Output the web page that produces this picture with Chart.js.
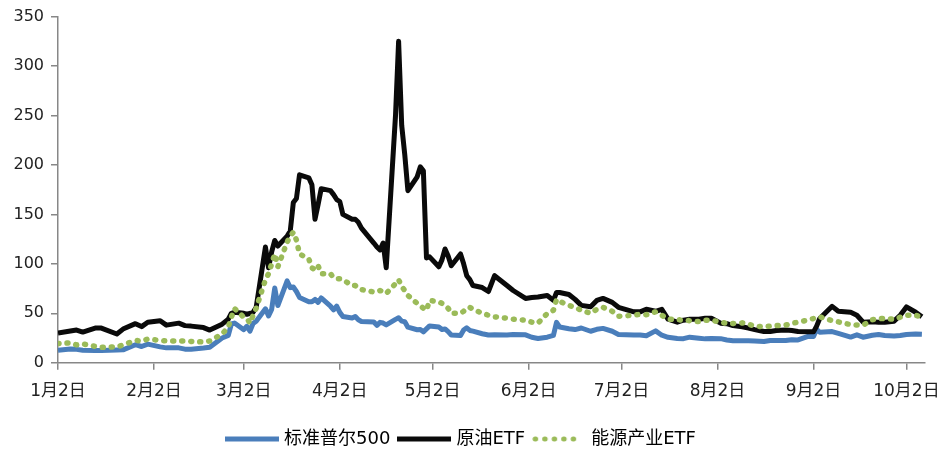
<!DOCTYPE html>
<html>
<head>
<meta charset="utf-8">
<script src="https://cdn.jsdelivr.net/npm/chart.js@4.4.1/dist/chart.umd.min.js"></script>
<style>
  html, body { margin: 0; padding: 0; background: #fff; }
  #wrap { width: 945px; height: 455px; }
</style>
</head>
<body>
<div id="wrap"><canvas id="volChart" width="945" height="455"></canvas></div>
<script>
// trading days (2020) and the three volatility series
const tradeDates = [
  '1/2','1/6','1/8','1/10','1/14','1/16','1/21','1/23','1/27','1/29','1/31',
  '2/4','2/6','2/10','2/12','2/14','2/18','2/20','2/24','2/26','2/27','2/28',
  '3/2','3/3','3/4','3/5','3/6','3/9','3/10','3/11','3/12','3/13','3/16','3/17','3/18','3/19','3/20',
  '3/23','3/24','3/25','3/26','3/27','3/30','3/31',
  '4/1','4/2','4/3','4/6','4/7','4/8','4/9','4/13','4/14','4/15','4/16','4/17','4/20','4/21','4/22',
  '4/23','4/24','4/27','4/28','4/29','4/30',
  '5/1','5/4','5/5','5/6','5/7','5/8','5/11','5/12','5/13','5/14','5/15','5/18','5/20','5/22','5/26','5/28',
  '6/1','6/3','6/5','6/8','6/10','6/11','6/12','6/15','6/17','6/19','6/22','6/24','6/26','6/29',
  '7/1','7/6','7/8','7/10','7/13','7/15','7/17','7/20','7/22','7/24','7/27','7/29','7/31',
  '8/3','8/5','8/7','8/10','8/12','8/14','8/17','8/19','8/21','8/24','8/26','8/28','8/31',
  '9/2','9/3','9/4','9/8','9/10','9/14','9/16','9/18','9/21','9/23','9/25','9/28','9/30',
  '10/2','10/5','10/7'
];

const sp500Vol = [
  12.5, 13.8, 13.5, 12.6, 12.4, 12.3, 12.9, 13.0, 18.2, 16.4, 18.8,
  16.0, 15.0, 15.0, 13.7, 13.7, 14.8, 15.6, 25.0, 27.6, 39.2, 40.1,
  33.4, 36.8, 32.0, 39.6, 41.9, 54.5, 47.3, 53.9, 75.5, 57.8, 82.7, 75.9, 76.5, 72.0, 66.0,
  61.6, 61.7, 64.0, 61.0, 65.5, 57.1, 53.5,
  57.1, 50.9, 46.8, 45.2, 46.7, 43.4, 41.7, 41.2, 37.8, 40.8, 40.1, 38.2, 43.8, 45.4, 42.0,
  41.4, 35.9, 33.3, 33.6, 31.2, 34.2,
  37.2, 36.0, 33.6, 34.1, 31.4, 28.0, 27.6, 33.0, 35.3, 32.6, 31.9, 29.3, 28.0, 28.2, 28.0, 28.6,
  28.2, 25.7, 24.5, 25.8, 27.6, 40.8, 36.1, 34.4, 33.5, 35.1, 31.8, 33.8, 34.7, 31.8,
  28.6, 27.9, 28.1, 27.3, 32.2, 27.8, 25.7, 24.5, 24.3, 25.8, 24.7, 24.1, 24.5,
  24.3, 23.0, 22.2, 22.1, 22.3, 22.0, 21.4, 22.5, 22.5, 22.4, 23.3, 23.0, 26.4,
  26.6, 33.6, 30.8, 31.5, 29.7, 25.9, 28.2, 25.8, 27.8, 28.6, 27.5, 27.0, 27.5,
  28.5, 29.0, 28.8
];

const oilEtfVol = [
  30, 32, 33, 31, 35, 35, 29, 34, 39.5, 36.5, 41,
  42.5, 38, 40, 37.5, 37, 35.5, 33, 39, 44, 50, 51,
  50, 49, 50, 51, 56, 117, 96, 112, 123.6, 118, 128, 133, 162, 166, 190,
  187, 180, 145, 160, 176, 174, 170,
  165, 163, 150, 145, 145, 142, 136, 121, 117, 114, 121, 96, 250, 325, 240,
  210, 174, 188, 198, 194, 106,
  107, 97, 104, 115, 108, 98, 110, 100, 88, 84, 78, 76, 72, 88, 78, 73,
  65, 66, 66.5, 68, 63, 71, 71, 69, 64, 58, 56.5, 63, 65, 61,
  56, 51.4, 51.4, 54, 52, 54, 44, 41, 43, 44, 44, 45, 45,
  40, 39.5, 37.5, 36.3, 35, 33.5, 31.5, 31.5, 32.5, 33, 32.5, 31.5, 31.2,
  31.2, 37, 44.7, 57, 52, 51, 48, 41, 41.3, 41, 41, 42, 48,
  56.4, 51, 46.5
];

const energyEtfVol = [
  19.5, 20, 18, 19, 16.5, 15.5, 16, 18, 22.5, 22, 24,
  22.5, 22, 21.9, 22, 21.5, 21, 22, 29, 36, 46, 54.8,
  46, 44.7, 40, 48, 55, 84, 90, 100, 110, 97, 122, 128, 132, 124, 110,
  105, 96, 94, 98, 90, 90, 86,
  85, 85, 84, 78, 78, 75, 74, 71.5, 72, 73, 72, 70, 80, 84, 77,
  73, 68, 60, 58, 55, 53,
  63, 61.5, 60, 58, 55, 50, 50, 52, 55, 56, 54, 50, 48, 46.4, 45, 44,
  43, 41, 40, 49.8, 53, 64, 62, 58, 56, 53, 50, 54, 56, 52,
  47, 48, 49, 48.5, 51.4, 48, 44, 43.5, 43, 42.5, 41.5, 43, 43,
  41, 39.7, 39.7, 40.3, 39, 37, 36.3, 37, 37.5, 38, 39.7, 41, 43,
  44.7, 46, 46.4, 42.5, 41.3, 38.5, 38, 38, 43.5, 44.7, 44.5, 44, 46,
  48, 48, 46
];

const tickDates = ['1/2', '2/2', '3/2', '4/2', '5/2', '6/2', '7/2', '8/2', '9/2', '10/2'];
const tickLabels = ['1月2日', '2月2日', '3月2日', '4月2日', '5月2日', '6月2日', '7月2日', '8月2日', '9月2日', '10月2日'];
const seriesNames = ['标准普尔500', '原油ETF', '能源产业ETF'];
const seriesColors = ['#4a7ebb', '#0a0a0a', '#9bbb59'];

const axisGrey = '#878787';
const fontFamily = "'DejaVu Sans', 'Noto Sans CJK SC', sans-serif";

// days since Jan 2 so weekends keep their calendar spacing
function dayOffset(md) {
    const [m, d] = md.split('/').map(Number);
    return (Date.UTC(2020, m - 1, d) - Date.UTC(2020, 0, 2)) / 86400000;
}

const xDays = tradeDates.map(dayOffset);
const tickDays = tickDates.map(dayOffset);

function toPoints(values) {
    return values.map((v, i) => ({x: xDays[i], y: v}));
}

// little line samples for the legend
function legendSample(color, dotted) {
    const c = document.createElement('canvas');
    c.width = 54;
    c.height = 8;
    const g = c.getContext('2d');
    g.strokeStyle = color;
    g.lineWidth = 5;
    g.beginPath();
    if (dotted) {
        g.lineCap = 'round';
        g.setLineDash([0.5, 9]);
        g.moveTo(3, 4);
        g.lineTo(44, 4);
    } else {
        g.moveTo(0, 4);
        g.lineTo(54, 4);
    }
    g.stroke();
    return c;
}
const legendSamples = [
    legendSample(seriesColors[0], false),
    legendSample(seriesColors[1], false),
    legendSample(seriesColors[2], true)
];

const ctx = document.getElementById('volChart');
const volChart = new Chart(ctx, {
    type: 'line',
    data: {
        datasets: [{
            label: seriesNames[0],
            data: toPoints(sp500Vol),
            borderColor: seriesColors[0],
            borderWidth: 5,
            order: 3
        }, {
            label: seriesNames[1],
            data: toPoints(oilEtfVol),
            borderColor: seriesColors[1],
            borderWidth: 5,
            order: 2
        }, {
            label: seriesNames[2],
            data: toPoints(energyEtfVol),
            borderColor: seriesColors[2],
            borderWidth: 5.5,
            borderDash: [1, 8],
            borderCapStyle: 'round',
            order: 1
        }]
    },
    options: {
        responsive: false,
        animation: false,
        devicePixelRatio: 1,
        layout: {padding: {top: 15, right: 20, left: 0, bottom: -3}},
        elements: {
            point: {radius: 0},
            line: {tension: 0, fill: false, borderJoinStyle: 'round'}
        },
        scales: {
            x: {
                type: 'linear',
                min: 0,
                max: 280,
                afterBuildTicks: scale => {
                    scale.ticks = tickDays.map(v => ({value: v}));
                },
                afterFit: scale => {
                    scale.height = 56.3;
                    // let the last label hang into the right margin
                    scale.paddingLeft = 0;
                    scale.paddingRight = 0;
                },
                grid: {
                    drawOnChartArea: false,
                    drawTicks: true,
                    tickLength: 7,
                    color: axisGrey,
                    lineWidth: 1.5
                },
                border: {color: axisGrey, width: 1.5},
                ticks: {
                    autoSkip: false,
                    maxRotation: 0,
                    padding: 12,
                    color: '#222',
                    font: {family: fontFamily, size: 17},
                    callback: value => {
                        const i = tickDays.indexOf(value);
                        return i >= 0 ? tickLabels[i] : '';
                    }
                }
            },
            y: {
                min: 0,
                max: 350,
                afterFit: scale => {
                    scale.width = 58;
                },
                grid: {
                    drawOnChartArea: false,
                    drawTicks: true,
                    tickLength: 7,
                    color: axisGrey,
                    lineWidth: 1.5
                },
                border: {color: axisGrey, width: 1.5},
                ticks: {
                    stepSize: 50,
                    padding: 7,
                    color: '#222',
                    font: {family: fontFamily, size: 16}
                }
            }
        },
        plugins: {
            tooltip: {enabled: false},
            legend: {
                position: 'bottom',
                labels: {
                    usePointStyle: true,
                    pointStyleWidth: 46,
                    padding: 11,
                    color: '#222',
                    font: {family: fontFamily, size: 18},
                    generateLabels: chart => chart.data.datasets.map((ds, i) => ({
                        text: ds.label,
                        datasetIndex: i,
                        pointStyle: legendSamples[i],
                        fillStyle: ds.borderColor,
                        strokeStyle: ds.borderColor,
                        lineWidth: 0,
                        hidden: false
                    }))
                }
            }
        }
    }
});
</script>
</body>
</html>
